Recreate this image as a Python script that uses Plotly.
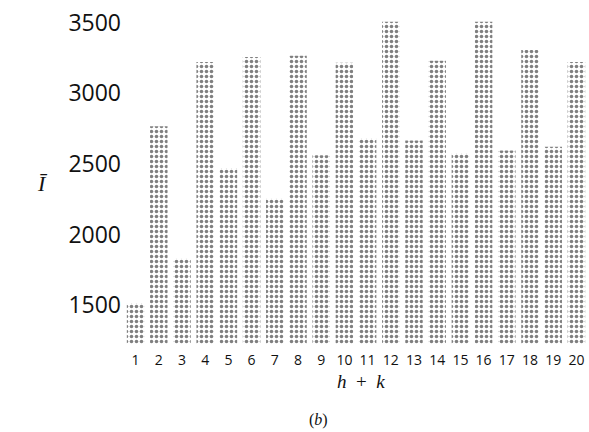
import plotly.graph_objects as go

categories = [str(i) for i in range(1, 21)]
values = [1515, 2765, 1830, 3220, 2470, 3255, 2255, 3265, 2560, 3215,
          2680, 3505, 2665, 3230, 2575, 3505, 2595, 3305, 2620, 3220]
y_ticks = [1500, 2000, 2500, 3000, 3500]

W, H = 589, 432
L, R, T, B = 124, 1, 14, 88
PW, PH = W - L - R, H - T - B


def px(xp, yp):
    return (xp - L) / PW, (H - B - yp) / PH


annots = []
for text, (xp, yp), fam, size in [
    ("<i>Ī</i>", (42, 183), "Liberation Serif", 22),
    ("<i>h</i>  +  <i>k</i>", (361, 381), "Liberation Serif", 19),
    ("(<i>b</i>)", (318, 420), "Liberation Serif", 16),
]:
    xx, yy = px(xp, yp)
    annots.append(dict(text=text, x=xx, y=yy, xref="paper", yref="paper",
                       xanchor="center", yanchor="middle", showarrow=False,
                       font=dict(family=fam, size=size, color="#111")))

fig = go.Figure(go.Bar(
    x=categories, y=values,
    marker=dict(color="white", line=dict(width=0),
                pattern=dict(shape=".", fgcolor="black", bgcolor="white",
                             size=5, solidity=0.4)),
))

fig.update_layout(
    width=W, height=H,
    margin=dict(l=L, r=R, t=T, b=B),
    paper_bgcolor="white", plot_bgcolor="white",
    bargap=0.245, showlegend=False,
    xaxis=dict(type="category", showgrid=False, showline=False, ticks="",
               tickfont=dict(family="Open Sans", size=14, color="#111"),
               ticklabelstandoff=6),
    yaxis=dict(range=[1225, 3560], tickvals=y_ticks, showgrid=False,
               showline=False, zeroline=False, ticks="",
               tickfont=dict(family="Open Sans", size=23, color="#111"),
               ticklabelstandoff=2),
    annotations=annots,
)

fig.write_html("out.html", config={"displayModeBar": False},
               post_script="document.body.style.margin='0';")
